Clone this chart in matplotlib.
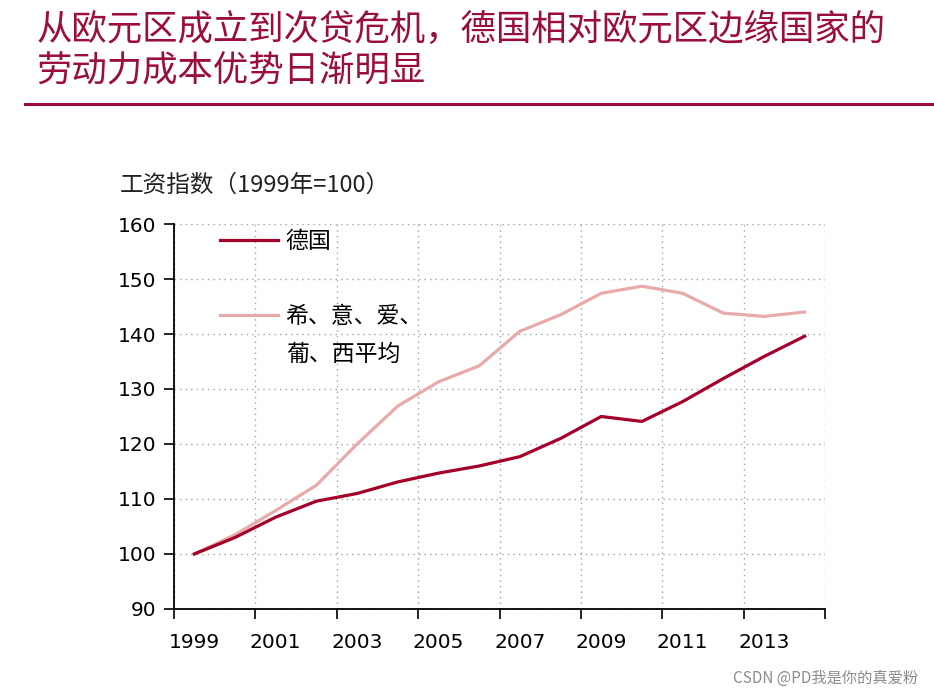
import numpy as np
import matplotlib.pyplot as plt

plt.rcParams['font.family'] = ['Noto Sans CJK SC', 'DejaVu Sans']

years = ['1999', '2000', '2001', '2002', '2003', '2004', '2005', '2006',
         '2007', '2008', '2009', '2010', '2011', '2012', '2013', '2014']
germany = [100, 103.0, 106.7, 109.6, 111.0, 113.1, 114.7, 116.0,
           117.7, 121.0, 125.0, 124.1, 127.7, 131.9, 135.9, 139.6]
periphery = [100, 103.5, 107.9, 112.5, 120.0, 126.9, 131.3, 134.2,
             140.5, 143.5, 147.4, 148.7, 147.4, 143.8, 143.2, 144.0]

title_text = '从欧元区成立到次贷危机，德国相对欧元区边缘国家的\n劳动力成本优势日渐明显'
ylabel_text = '工资指数（1999年=100）'
label_de = '德国'
label_per = ['希、意、爱、', '葡、西平均']

red = '#A5002A'
pink = '#E8AAAA'
title_red = '#9B0D3B'

fig = plt.figure(figsize=(9.34, 6.97), dpi=100)
ax = fig.add_axes([0.1863, 0.1263, 0.697, 0.5523])

x = np.arange(len(years))
ax.plot(x, germany, color=red, lw=2.3, label=label_de, zorder=3)
ax.plot(x, periphery, color=pink, lw=2.3, label=label_per[0], zorder=2)

ax.set_xlim(-0.5, len(years) - 0.5)
ax.set_ylim(90, 160)
ax.set_yticks(np.arange(90, 161, 10))

# category boundaries get the ticks, labels sit at every other category
ax.set_xticks(np.arange(-0.5, len(years), 2))
ax.set_xticklabels([])
ax.set_xticks(x[::2], minor=True)
ax.set_xticklabels(years[::2], minor=True)
ax.tick_params(axis='x', which='minor', length=0, pad=17, labelsize=14.5)
ax.tick_params(axis='x', which='major', length=7, width=1.2, direction='out')
ax.tick_params(axis='y', length=7, width=1.2, direction='out', labelsize=14.5, pad=6)
for lab in ax.get_xticklabels(minor=True) + ax.get_yticklabels():
    lab.set_fontfamily('DejaVu Sans')

ax.grid(True, which='major', color='#A0A0A0', linestyle=(0, (1, 3)), lw=1)
ax.spines['top'].set_visible(False)
ax.spines['right'].set_visible(False)
ax.spines['left'].set_linewidth(1.3)
ax.spines['bottom'].set_linewidth(1.3)

leg = ax.legend(loc='upper left', bbox_to_anchor=(0.0707, 0.985), frameon=False,
                fontsize=16.5, handlelength=2.55, handletextpad=0.3,
                labelspacing=2.27, borderpad=0, borderaxespad=0)
ax.text(0.172, 0.66, label_per[1], transform=ax.transAxes, fontsize=16.5,
        va='center', ha='left')

fig.text(0.128, 0.734, ylabel_text, fontsize=17, color='#222222', va='center')
fig.text(0.039, 0.927, title_text, fontsize=25.5, color=title_red, va='center',
         linespacing=1.22)
fig.add_artist(plt.Line2D([0.027, 1.0], [0.851, 0.851], color=title_red, lw=2.2))

fig.text(0.983, 0.027, 'CSDN @PD我是你的真爱粉', fontsize=11, color='#8C8C8C',
         ha='right', va='center')

plt.savefig('out.png', dpi=100)
